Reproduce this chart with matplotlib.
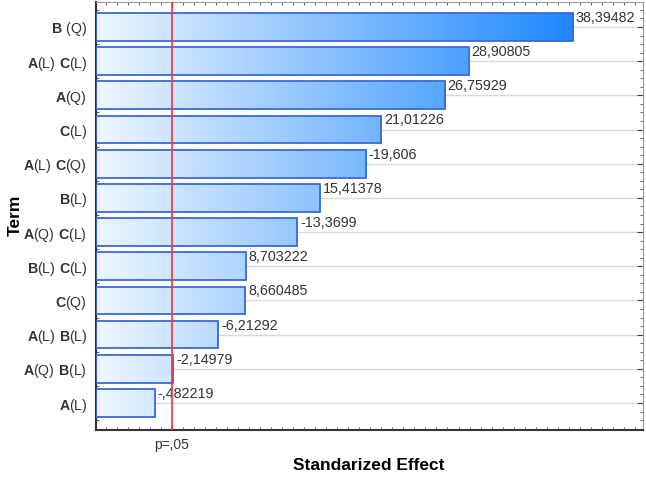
import numpy as np
import matplotlib
matplotlib.use("Agg")
import matplotlib.pyplot as plt
from matplotlib.colors import LinearSegmentedColormap
from matplotlib.ticker import MultipleLocator

plt.rcParams['font.family'] = 'Liberation Sans'
plt.rcParams['mathtext.fontset'] = 'custom'
plt.rcParams['mathtext.rm'] = 'Liberation Sans'
plt.rcParams['mathtext.bf'] = 'Liberation Sans:bold'

# data (top to bottom)
terms = [r"$\mathbf{B}\ \mathrm{(Q)}$",
         r"$\mathbf{A}\mathrm{(L)}\ \mathbf{C}\mathrm{(L)}$",
         r"$\mathbf{A}\mathrm{(Q)}$",
         r"$\mathbf{C}\mathrm{(L)}$",
         r"$\mathbf{A}\mathrm{(L)}\ \mathbf{C}\mathrm{(Q)}$",
         r"$\mathbf{B}\mathrm{(L)}$",
         r"$\mathbf{A}\mathrm{(Q)}\ \mathbf{C}\mathrm{(L)}$",
         r"$\mathbf{B}\mathrm{(L)}\ \mathbf{C}\mathrm{(L)}$",
         r"$\mathbf{C}\mathrm{(Q)}$",
         r"$\mathbf{A}\mathrm{(L)}\ \mathbf{B}\mathrm{(L)}$",
         r"$\mathbf{A}\mathrm{(Q)}\ \mathbf{B}\mathrm{(L)}$",
         r"$\mathbf{A}\mathrm{(L)}$"]
effects = [38.39482, 28.90805, 26.75929, 21.01226, -19.606, 15.41378,
           -13.3699, 8.703222, 8.660485, -6.21292, -2.14979, -0.482219]
effect_labels = ["38,39482", "28,90805", "26,75929", "21,01226", "-19,606",
                 "15,41378", "-13,3699", "8,703222", "8,660485", "-6,21292",
                 "-2,14979", "-,482219"]
p_value_line = 1.99

xmin, xmax = -4.9, 44.75
ypos = np.arange(len(terms))
lengths = np.abs(effects)

fig = plt.figure(figsize=(6.46, 4.78), dpi=100)
ax = fig.add_axes([0.148, 0.1004, 0.8478, 0.8954])

cmap = LinearSegmentedColormap.from_list('grad', ['#eef6ff', '#1e88ff'])
grad = np.linspace(0, 1, 256).reshape(1, -1)

# horizontal grid at bar centres
for y in ypos:
    ax.axhline(y, color='#d8d8d8', lw=1.0, zorder=0)

bars = ax.barh(ypos, lengths - xmin, left=xmin, height=0.81,
               facecolor='none', edgecolor='#3a6ad8', lw=1.3, zorder=3)
for b in bars:
    im = ax.imshow(grad, extent=[xmin, max(lengths), len(terms), -1], cmap=cmap,
                   aspect='auto', zorder=2, origin='lower')
    im.set_clip_path(b)

for y, l, lab in zip(ypos, lengths, effect_labels):
    ax.annotate(lab, (l, y), xytext=(2, 1.5), textcoords='offset points',
                ha='left', va='bottom', fontsize=10.3, color='#333333', zorder=4)

ax.axvline(p_value_line, color='#ff3030', lw=1.2, zorder=5)

ax.set_xlim(xmin, xmax)
ax.set_ylim(len(terms) - 1 + 0.79, -0.73)
ax.set_yticks(ypos)
ax.set_yticklabels(terms, fontsize=10.2, color='#333333')
ax.set_xticks([p_value_line])
ax.set_xticklabels(["p=,05"], fontsize=10, color='#333333')
ax.xaxis.set_minor_locator(MultipleLocator(1))
ax.yaxis.set_minor_locator(MultipleLocator(0.25))
ax.tick_params(axis='both', which='both', direction='in', top=True, right=True,
               color='#444444')
ax.tick_params(axis='x', which='major', length=4, pad=6)
ax.tick_params(axis='y', which='major', length=4, pad=6)
ax.tick_params(which='minor', length=2.5)

for s in ['left', 'bottom']:
    ax.spines[s].set_color('#333333')
    ax.spines[s].set_linewidth(1.5)
for s in ['top', 'right']:
    ax.spines[s].set_color('#999999')
    ax.spines[s].set_linewidth(0.8)

fig.text(0.571, 0.027, 'Standarized Effect', fontsize=12.5, fontweight='bold',
         ha='center', va='center')
fig.text(0.024, 0.55, 'Term', rotation=90, fontsize=12.5, fontweight='bold',
         ha='center', va='center')

fig.savefig('out.png', dpi=100)
